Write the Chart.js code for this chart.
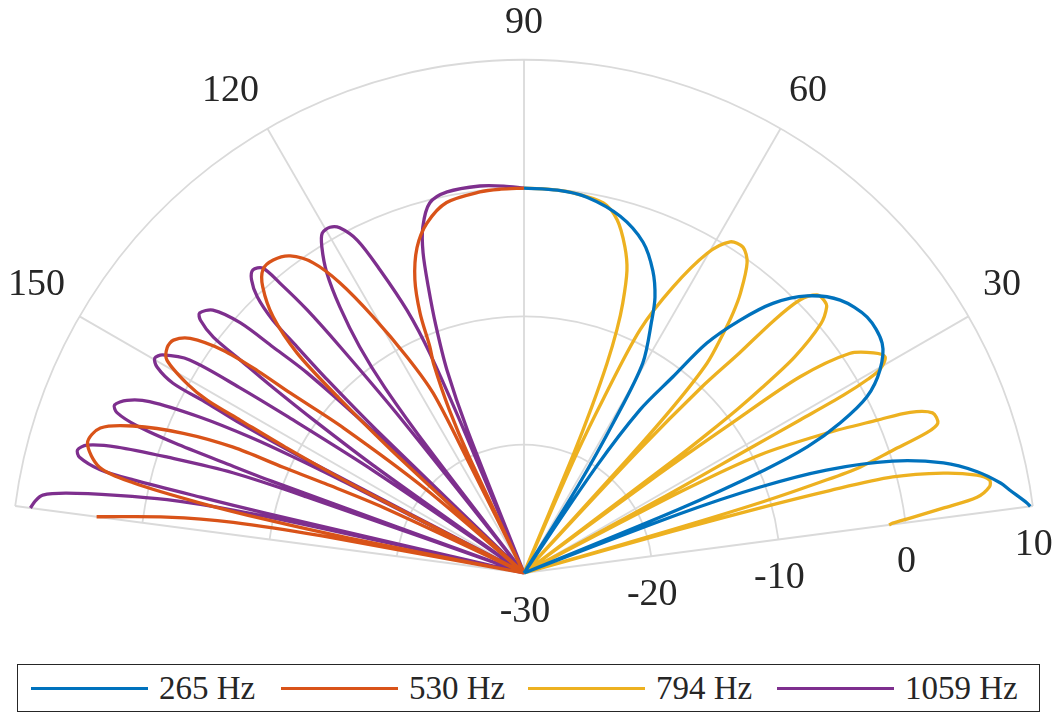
<!DOCTYPE html>
<html>
<head>
<meta charset="utf-8">
<script src="https://cdn.jsdelivr.net/npm/chart.js@4.4.1/dist/chart.umd.min.js"></script>
<style>
  html, body { margin: 0; padding: 0; background: #fff; }
  #wrap { position: relative; width: 1062px; height: 716px; }
  #polar { position: absolute; left: 0; top: 0; }
  #legend {
    position: absolute; left: 17px; top: 664px; width: 1021px; height: 46px;
    border: 1.3px solid #262626; background: #fff;
    font-family: "Liberation Serif", "DejaVu Serif", serif; font-size: 33px; color: #262626;
  }
  #legend .swatch { position: absolute; top: 22px; width: 117px; height: 3px; }
  #legend .txt { position: absolute; top: 3px; line-height: 40px; white-space: nowrap; }
</style>
</head>
<body>
<div id="wrap">
  <canvas id="polar" width="1062" height="716"></canvas>
  <div id="legend"></div>
</div>
<script>
// polar axis settings
const rTicks = [-30, -20, -10, 0, 10];
const thetaTicks = [30, 60, 90, 120, 150];
const thetaLim = [7.5, 172.5];
const seriesLabels = ['265 Hz', '530 Hz', '794 Hz', '1059 Hz'];
const seriesColors = ['#0072BD', '#D95319', '#EDB120', '#7E2F8E'];

// 265 Hz (angle in degrees, level in dB)
const theta265 = [7.5, 7.9, 9.7, 10.7, 12.6, 14.7, 16.9, 18.8, 20.0, 20.8, 21.5,
  22.4, 23.2, 24.0, 25.4, 27.2, 29.7, 32.7, 36.7, 40.8, 44.4, 47.3, 49.5, 51.5, 52.8, 54.6, 55.8, 57.0,
  58.2, 59.3, 60.5, 63.2, 64.6, 66.9, 70.2, 74.9, 80.5, 85.0, 90.0];
const db265 = [9.8, 9.6, 8.4, 7.8, 6.2, 3.8, 0.0, -5.1, -10.4, -17, -30,
  -17, -9.6, -5.8, -2.7, 0.05, 1.94, 3.17, 3.36, 2.55, 0.87, -1.4, -4.1, -7.1, -10.8, -14.4, -20, -30,
  -22, -16.2, -11.2, -7.9, -6.2, -4.4, -2.6, -1.2, -0.3, -0.05, 0];

// 530 Hz
const theta530 = [90.0, 93.5, 96.6, 101.8, 105.5, 108.2, 110.4, 111.8, 112.6, 113.4, 114.6, 115.3, 116.0,
  116.5, 116.8, 118.4, 120.5, 122.4, 124.2, 126.4, 128.7, 130.7, 132.4, 134.4, 135.9, 136.6, 137.2, 138.0,
  139.5, 141.2, 142.4, 142.8, 143.5, 144.9, 146.4, 147.7, 149.2, 150.7, 151.4, 151.7, 152.2, 152.8, 153.8,
  155.0, 155.8, 156.3, 156.6, 157.7, 159.4, 161.1, 163.4, 166.0, 167.0, 167.8, 168.3, 168.7, 169.2,
  169.6, 170.1, 171.1, 172.5];
const db530 = [0, -0.03, -0.1, -0.5, -1.7, -3.3, -5.6, -8.2, -10.9, -12.3, -16, -20, -30,
  -20, -14.3, -10.9, -6.8, -3.2, -0.77, 0.7, 1.26, 1.2, 0.2, -2.05, -5.4, -10, -16, -30,
  -20, -12, -7.0, -3.9, -0.8, 1.8, 2.8, 2.9, 2.4, 0.07, -1.9, -4.9, -9, -15, -30,
  -18, -13, -9.5, -5.3, -1.3, 2.56, 4.9, 5.5, 4.1, 1.27, -4.2, -9.5, -16, -30,
  -14, -7, -1.8, 3.6];

// 794 Hz
const theta794 = [7.5, 7.7, 8.1, 8.8, 9.5, 10.5, 11.3, 12.2, 13.4, 14.6, 15.1, 15.4, 15.7, 16.0,
  16.3, 16.6, 17.1, 17.5, 18.4, 19.2, 19.9, 21.4, 22.6, 23.4, 24.8, 26.6, 27.4, 28.0,
  28.5, 28.9, 29.0, 29.1, 29.4, 29.8, 30.9, 32.2, 34.0, 35.4, 35.8, 36.2, 36.6,
  37.0, 37.2, 37.5, 37.9, 38.6, 40.0, 41.3, 42.2, 43.5, 44.7, 45.3, 45.6, 46.3, 46.9, 47.3,
  47.7, 48.1, 48.9, 50.2, 51.2, 52.3, 54.3, 56.1, 58.1, 60.2, 62.5, 64.5, 65.5, 66.2, 66.8,
  67.4, 67.8, 68.4, 69.1, 69.9, 71.2, 72.8, 75.2, 77.9, 83.1, 86.5, 90.0];
const db794 = [-1.3, -1.0, 0.4, 3.05, 5.8, 6.9, 7.0, 6.1, 3.6, -0.3, -5.4, -10.5, -18, -30,
  -18, -10.5, -5.3, -2.5, 0.3, 3.25, 4.3, 4.2, 2.6, 0.0, -4.0, -9.4, -16, -30,
  -18, -9.8, -5.4, -1.5, 0.8, 2.0, 2.8, 2.2, 0.6, -3.6, -10, -17, -30,
  -15, -12, -9, -6.5, -3.0, 0.2, 1.4, 1.6, 1.5, 0.25, -2.3, -6, -10, -17, -30,
  -18, -12.5, -8.3, -5.8, -4.0, -2.4, -0.2, 0.6, 0.4, -1.3, -4.9, -9.0, -15, -20, -30,
  -20, -16, -12.4, -9.7, -7.6, -5.1, -3.4, -1.55, -0.5, -0.1, -0.02, 0];

// 1059 Hz
const theta1059 = [90.0, 93.0, 96.5, 101.4, 104.3, 106.3, 107.5, 108.5, 109.6, 110.8, 111.6, 112.3,
  112.8, 113.2, 114.0, 115.4, 116.6, 118.1, 119.3, 120.7, 121.8, 123.3, 124.7, 126.0, 126.9, 127.5, 128.1,
  128.6, 129.1, 129.5, 130.1, 130.6, 131.8, 132.9, 134.0, 134.8, 135.1, 135.5, 135.9, 136.3,
  136.8, 137.3, 138.0, 138.6, 139.8, 141.3, 142.0, 142.8, 143.1, 143.5, 144.0, 144.5, 145.0,
  145.8, 146.5, 146.9, 147.5, 148.9, 149.8, 150.7, 151.6, 151.8, 152.2, 152.5, 152.8,
  153.1, 153.3, 153.6, 154.3, 155.4, 156.5, 157.7, 158.5, 159.2, 159.6, 159.8, 160.0, 160.3,
  160.7, 161.0, 162.0, 162.8, 163.7, 164.6, 165.4, 166.3, 166.6, 166.8, 166.95, 167.3,
  167.5, 167.8, 168.4, 169.2, 170.1, 170.8, 171.6, 172.5];
const db1059 = [0, 0.2, 0.36, 0.3, -0.24, -1.9, -3.84, -6.5, -9.5, -13.1, -18, -30,
  -18, -11.4, -7.6, -3.85, -1.0, 0.5, 0.9, 0.8, -0.1, -2.0, -4.8, -8.2, -12, -18, -30,
  -14, -7.3, -3.4, -0.46, 1.3, 1.7, 1.2, -0.07, -2.2, -5.0, -8.5, -14, -30,
  -14, -7.0, -3.7, -0.5, 1.75, 2.4, 2.0, 0.4, -2.3, -5.3, -10, -16, -30,
  -16, -8, -3.5, 0.9, 2.9, 3.3, 2.8, 1.1, -2.0, -5.0, -10, -30,
  -16, -9.9, -6.2, -2.0, 2.1, 3.75, 4.5, 4.1, 2.2, -1.0, -5, -9, -30,
  -12, -6.0, -0.8, 3.2, 5.5, 6.1, 5.8, 4.0, 1.3, -4.1, -9.4, -30,
  -14, -6.8, -1.6, 2.3, 6.2, 8.0, 8.5, 8.8];

const rMin = rTicks[0];
const rMax = rTicks[rTicks.length - 1];
const rad = Math.PI / 180;
const FONT = '"Liberation Serif", "DejaVu Serif", serif';

// polar (theta, dB) -> cartesian; a gap is left at each null so every lobe ends sharply in the centre
function toXY(thetas, dbs) {
  const pts = [];
  thetas.forEach((t, i) => {
    const r = Math.max(Math.min(dbs[i], rMax) - rMin, 0);
    const p = { x: r * Math.cos(t * rad), y: r * Math.sin(t * rad) };
    if (r === 0 && i > 0 && i < thetas.length - 1) {
      pts.push(p, { x: 0, y: null }, { x: p.x, y: p.y });
    } else {
      pts.push(p);
    }
  });
  return pts;
}

// page geometry: pole of the plot and pixels per dB
const W = 1062, H = 716;
const pole = { x: 524, y: 573 };
const pxPerDb = 12.83;

const polarFrame = {
  id: 'polarFrame',
  beforeDatasetsDraw(chart) {
    const { ctx, scales: { x, y } } = chart;
    const cx = x.getPixelForValue(0), cy = y.getPixelForValue(0);
    const k = x.getPixelForValue(1) - cx;
    const R = (rMax - rMin) * k;
    ctx.save();
    ctx.strokeStyle = '#dadada';
    ctx.lineWidth = 1.8;
    rTicks.forEach(t => {
      if (t === rMin) return;
      ctx.beginPath();
      ctx.arc(cx, cy, (t - rMin) * k, -thetaLim[1] * rad, -thetaLim[0] * rad);
      ctx.stroke();
    });
    [thetaLim[0], ...thetaTicks, thetaLim[1]].forEach(t => {
      ctx.beginPath();
      ctx.moveTo(cx, cy);
      ctx.lineTo(cx + R * Math.cos(t * rad), cy - R * Math.sin(t * rad));
      ctx.stroke();
    });
    ctx.restore();
  },
  afterDraw(chart) {
    const { ctx, scales: { x, y } } = chart;
    const cx = x.getPixelForValue(0), cy = y.getPixelForValue(0);
    const k = x.getPixelForValue(1) - cx;
    ctx.save();
    ctx.fillStyle = '#262626';
    ctx.font = '38px ' + FONT;
    // angle labels
    thetaTicks.forEach(t => {
      const c = Math.cos(t * rad), s = Math.sin(t * rad);
      ctx.textAlign = Math.abs(c) < 1e-6 ? 'center' : (c > 0 ? 'left' : 'right');
      ctx.textBaseline = 'alphabetic';
      ctx.fillText(String(t), cx + 530 * c, cy - 540 * s - 9 * Math.abs(c));
    });
    // radial labels along the lower theta limit
    ctx.textAlign = 'center';
    ctx.textBaseline = 'middle';
    rTicks.forEach(t => {
      const r = (t - rMin) * k;
      const px = cx + r * Math.cos(thetaLim[0] * rad);
      const py = cy - r * Math.sin(thetaLim[0] * rad);
      ctx.fillText(String(t), px + 1, py + 39);
    });
    ctx.restore();
  }
};

const datasets = [
  [theta265, db265], [theta530, db530], [theta794, db794], [theta1059, db1059]
].map((s, i) => ({
  label: seriesLabels[i],
  data: toXY(s[0], s[1]),
  borderColor: seriesColors[i],
  backgroundColor: seriesColors[i],
  borderWidth: 3.3,
  showLine: true,
  spanGaps: false,
  pointRadius: 0,
  tension: 0.3,
  borderJoinStyle: 'round',
  borderCapStyle: 'butt'
}));

new Chart(document.getElementById('polar'), {
  type: 'scatter',
  data: { datasets },
  options: {
    responsive: false,
    animation: false,
    devicePixelRatio: 1,
    layout: { padding: 0 },
    plugins: { legend: { display: false }, tooltip: { enabled: false } },
    scales: {
      x: { display: false, min: -pole.x / pxPerDb, max: (W - pole.x) / pxPerDb },
      y: { display: false, min: -(H - pole.y) / pxPerDb, max: pole.y / pxPerDb }
    }
  },
  plugins: [polarFrame]
});

// legend box under the plot
const legendEl = document.getElementById('legend');
const legendX = [13, 263, 510, 759];
seriesLabels.forEach((lab, i) => {
  const sw = document.createElement('div');
  sw.className = 'swatch';
  sw.style.left = legendX[i] + 'px';
  sw.style.background = seriesColors[i];
  const tx = document.createElement('span');
  tx.className = 'txt';
  tx.style.left = (legendX[i] + 128) + 'px';
  tx.textContent = lab;
  legendEl.appendChild(sw);
  legendEl.appendChild(tx);
});
</script>
</body>
</html>
